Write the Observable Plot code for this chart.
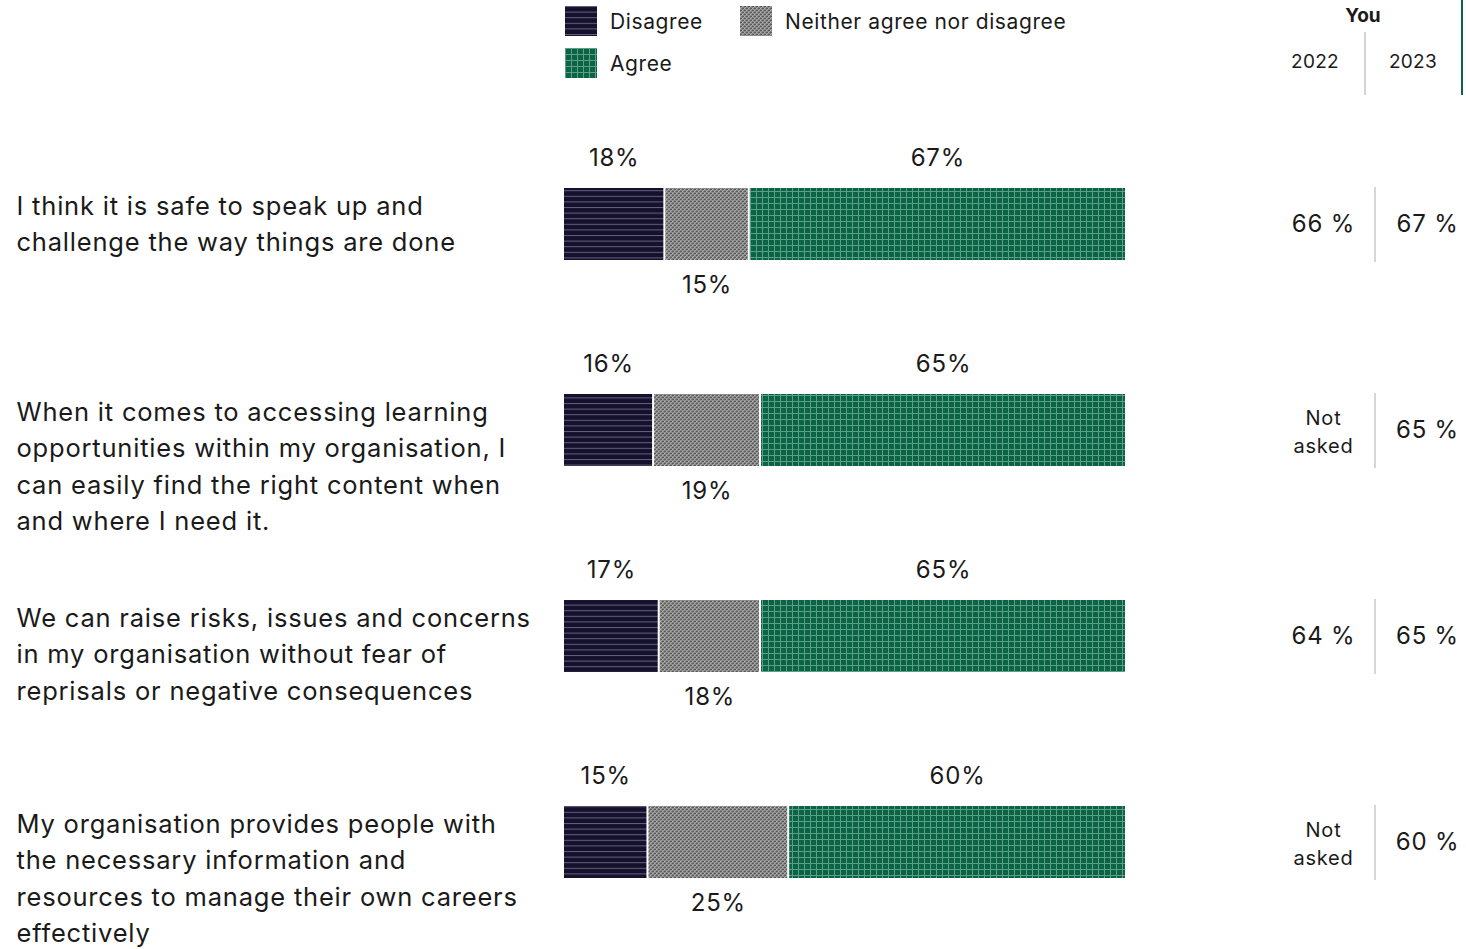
<!DOCTYPE html>
<html>
<head>
<meta charset="utf-8">
<script src="https://cdn.jsdelivr.net/npm/d3@7"></script>
<script src="https://cdn.jsdelivr.net/npm/@observablehq/plot@0.6"></script>
<style>
  html, body { margin: 0; padding: 0; background: #fff; }
  body { width: 1466px; height: 949px; overflow: hidden; font-family: Inter, "Noto Sans", sans-serif; color: #1a1a1a; position: relative; }
  #header { position: relative; width: 1466px; height: 95px; }
  .abs { position: absolute; }
  .legend-item { position: absolute; display: flex; align-items: center; font-size: 21px; letter-spacing: 0.6px; white-space: nowrap; }
  .legend-item svg { margin-right: 13px; }
  .yr { position: absolute; top: 50px; font-size: 19px; letter-spacing: 0.3px; transform: translateX(-50%); }
</style>
</head>
<body>
<svg width="0" height="0" style="position:absolute">
  <defs>
    <pattern id="pDis" patternUnits="userSpaceOnUse" width="8" height="5.6">
      <rect width="8" height="5.6" fill="#15112c"/>
      <rect y="0" width="8" height="1" fill="#646180"/>
    </pattern>
    <pattern id="pNeu" patternUnits="userSpaceOnUse" width="4" height="4">
      <rect width="4" height="4" fill="#868686"/>
      <rect x="0" y="0" width="2" height="1" fill="#5a5a5a"/>
      <rect x="2" y="2" width="2" height="1" fill="#5a5a5a"/>
      <rect x="2" y="0" width="1" height="1" fill="#b2b2b2"/>
      <rect x="0" y="2" width="1" height="1" fill="#b2b2b2"/>
      <rect x="1" y="1" width="1" height="1" fill="#a0a0a0"/>
      <rect x="3" y="3" width="1" height="1" fill="#a0a0a0"/>
    </pattern>
    <pattern id="pAgr" patternUnits="userSpaceOnUse" width="6" height="6">
      <rect width="6" height="6" fill="#0b6446"/>
      <rect x="0" y="0" width="1" height="6" fill="#5f9e86"/>
      <rect x="0" y="0" width="6" height="1" fill="#5f9e86"/>
    </pattern>
  </defs>
</svg>
<div id="header"></div>
<div id="chart"></div>
<script>
// ---- Data ----
const categories = ["Disagree", "Neither agree nor disagree", "Agree"];
const questions = [
  "I think it is safe to speak up and\nchallenge the way things are done",
  "When it comes to accessing learning\nopportunities within my organisation, I\ncan easily find the right content when\nand where I need it.",
  "We can raise risks, issues and concerns\nin my organisation without fear of\nreprisals or negative consequences",
  "My organisation provides people with\nthe necessary information and\nresources to manage their own careers\neffectively"
];
const disagree = [18, 16, 17, 15];
const neutral = [15, 19, 18, 25];
const agree = [67, 65, 65, 60];
const you2022 = ["66 %", "Not\nasked", "64 %", "Not\nasked"];
const you2023 = ["67 %", "65 %", "65 %", "60 %"];
const yearLabels = ["2022", "2023"];
const groupLabel = "You";

const patterns = ["url(#pDis)", "url(#pNeu)", "url(#pAgr)"];

// ---- Build table ----
const rows = [];
questions.forEach((q, i) => {
  const vals = [disagree[i], neutral[i], agree[i]];
  let acc = 0;
  vals.forEach((v, j) => {
    rows.push({question: q, category: categories[j], value: v, start: acc, end: acc + v, mid: acc + v / 2});
    acc += v;
  });
});
const qRows = questions.map((q, i) => ({question: q, y2022: you2022[i], y2023: you2023[i]}));

// ---- Header (legend + column headings) ----
const header = document.getElementById("header");
const legendPos = [[565, 6], [740, 6], [565, 48]];
categories.forEach((c, i) => {
  const item = document.createElement("div");
  item.className = "legend-item";
  item.style.left = legendPos[i][0] + "px";
  item.style.top = legendPos[i][1] + "px";
  item.innerHTML = `<svg width="32" height="30"><rect width="32" height="30" fill="${patterns[i]}"/></svg><span>${c}</span>`;
  header.appendChild(item);
});
const you = document.createElement("div");
you.className = "abs";
you.style.cssText = "left:1363px;top:4px;font-size:19px;font-weight:700;transform:translateX(-50%)";
you.textContent = groupLabel;
header.appendChild(you);
[1315, 1413].forEach((x, i) => {
  const d = document.createElement("div");
  d.className = "yr";
  d.style.left = x + "px";
  d.textContent = yearLabels[i];
  header.appendChild(d);
});
const sep = document.createElement("div");
sep.className = "abs";
sep.style.cssText = "left:1364px;top:32px;width:1.5px;height:63px;background:#d4d4d4";
header.appendChild(sep);
const green = document.createElement("div");
green.className = "abs";
green.style.cssText = "left:1461px;top:0;width:2px;height:95px;background:#0b6446";
header.appendChild(green);

// ---- Chart ----
const W = 1466, H = 854;
const txt = "#1a1a1a";
const chart = Plot.plot({
  width: W,
  height: H,
  margin: 0,
  style: {fontFamily: "Inter, 'Noto Sans', sans-serif", background: "transparent", color: txt, letterSpacing: "0.8px"},
  x: {domain: [0, 100], range: [563, 1126], axis: null},
  y: {type: "band", domain: questions, range: [93, 785], paddingInner: 0.652, paddingOuter: 0, align: 0, axis: null},
  color: {domain: categories, range: patterns},
  marks: [
    Plot.barX(rows, {x1: "start", x2: "end", y: "question", fill: "category", insetLeft: 1, insetRight: 1}),
    Plot.text(rows.filter(d => d.category !== categories[1]), {
      x: "mid", y: "question", text: d => d.value + "%", dy: -66, fontSize: 24, fill: txt
    }),
    Plot.text(rows.filter(d => d.category === categories[1]), {
      x: "mid", y: "question", text: d => d.value + "%", dy: 61, fontSize: 24, fill: txt
    }),
    Plot.text(qRows, {
      y: "question", text: "question", frameAnchor: "left", textAnchor: "start",
      lineAnchor: "top", dx: 16, dy: -35, fontSize: 25.5, lineHeight: 1.42, fill: txt
    }),
    Plot.cell(qRows, {y: "question", fill: "#d6d6d6", insetLeft: 1374, insetRight: W - 1376, insetTop: -1, insetBottom: -2}),
    Plot.text(qRows.filter(d => !d.y2022.includes("\n")), {
      y: "question", text: "y2022", frameAnchor: "right", textAnchor: "middle", dx: 1323 - W, fontSize: 24, fill: txt
    }),
    Plot.text(qRows.filter(d => d.y2022.includes("\n")), {
      y: "question", text: "y2022", frameAnchor: "right", textAnchor: "middle", dx: 1323 - W, fontSize: 20, lineHeight: 1.4, fill: txt
    }),
    Plot.text(qRows, {
      y: "question", text: "y2023", frameAnchor: "right", textAnchor: "middle", dx: 1427 - W, fontSize: 24, fill: txt
    })
  ]
});
document.getElementById("chart").appendChild(chart);
</script>
</body>
</html>
